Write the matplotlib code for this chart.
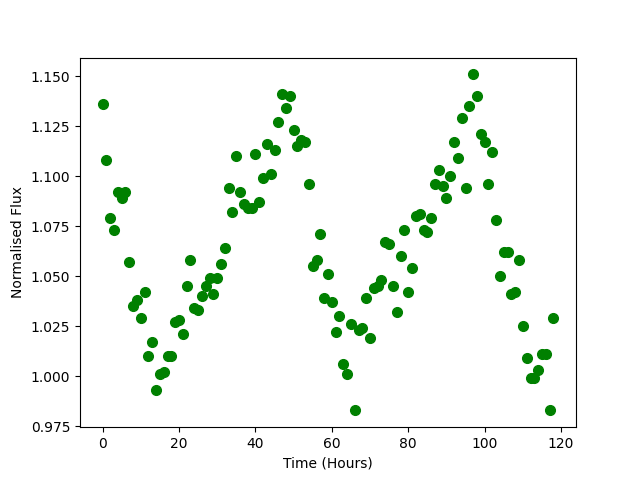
import matplotlib
matplotlib.use("Agg")
import matplotlib.pyplot as plt

flux = [1.136, 1.108, 1.079, 1.073, 1.092, 1.089, 1.092, 1.057, 1.035, 1.038,
        1.029, 1.042, 1.010, 1.017, 0.993, 1.001, 1.002, 1.010, 1.010, 1.027,
        1.028, 1.021, 1.045, 1.058, 1.034, 1.033, 1.040, 1.045, 1.049, 1.041,
        1.049, 1.056, 1.064, 1.094, 1.082, 1.110, 1.092, 1.086, 1.084, 1.084,
        1.111, 1.087, 1.099, 1.116, 1.101, 1.113, 1.127, 1.141, 1.134, 1.140,
        1.123, 1.115, 1.118, 1.117, 1.096, 1.055, 1.058, 1.071, 1.039, 1.051,
        1.037, 1.022, 1.030, 1.006, 1.001, 1.026, 0.983, 1.023, 1.024, 1.039,
        1.019, 1.044, 1.045, 1.048, 1.067, 1.066, 1.045, 1.032, 1.060, 1.073,
        1.042, 1.054, 1.080, 1.081, 1.073, 1.072, 1.079, 1.096, 1.103, 1.095,
        1.089, 1.100, 1.117, 1.109, 1.129, 1.094, 1.135, 1.151, 1.140, 1.121,
        1.117, 1.096, 1.112, 1.078, 1.050, 1.062, 1.062, 1.041, 1.042, 1.058,
        1.025, 1.009, 0.999, 0.999, 1.003, 1.011, 1.011, 0.983, 1.029]
hours = list(range(len(flux)))

fig, ax = plt.subplots(figsize=(6.4, 4.8), dpi=100)
ax.plot(hours, flux, 'o', color='green', markersize=7)
ax.set_xlabel('Time (Hours)')
ax.set_ylabel('Normalised Flux')
fig.savefig('out.png')
